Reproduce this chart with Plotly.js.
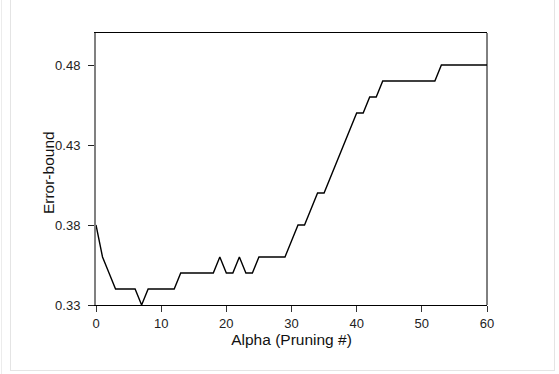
<!DOCTYPE html>
<html>
<head>
<meta charset="utf-8">
<script src="https://cdn.plot.ly/plotly-3.0.1.min.js"></script>
<style>
  html, body { margin: 0; padding: 0; background: #ffffff; }
  #wrap { position: relative; width: 559px; height: 374px; overflow: hidden; }
  #chart { position: absolute; left: 0; top: 0; width: 559px; height: 374px; }
  #frame { position: absolute; left: 10px; top: -4px; width: 545px; height: 375px;
           border: 1px solid #e4e4e4; box-sizing: border-box; pointer-events: none; }
  #edge { position: absolute; left: 1px; top: 0; width: 1px; height: 374px; background: #ececec; }
</style>
</head>
<body>
<div id="wrap">
  <div id="chart"></div>
  <div id="frame"></div>
  <div id="edge"></div>
</div>
<script>
const alpha = [0,1,2,3,4,5,6,7,8,9,10,11,12,13,14,15,16,17,18,19,20,21,22,23,24,25,26,27,28,29,30,
               31,32,33,34,35,36,37,38,39,40,41,42,43,44,45,46,47,48,49,50,51,52,53,54,55,56,57,58,59,60];
const errorBound = [0.38,0.36,0.35,0.34,0.34,0.34,0.34,0.33,0.34,0.34,0.34,0.34,0.34,0.35,0.35,0.35,0.35,0.35,0.35,0.36,
                    0.35,0.35,0.36,0.35,0.35,0.36,0.36,0.36,0.36,0.36,0.37,0.38,0.38,0.39,0.40,0.40,0.41,0.42,0.43,0.44,
                    0.45,0.45,0.46,0.46,0.47,0.47,0.47,0.47,0.47,0.47,0.47,0.47,0.47,0.48,0.48,0.48,0.48,0.48,0.48,0.48,0.48];
const xTicks = [0,10,20,30,40,50,60];
const yTicks = [0.33,0.38,0.43,0.48];
const yTickText = ["0.33","0.38","0.43","0.48"];

const font = "Liberation Sans, Arial, sans-serif";

Plotly.newPlot("chart", [{
  x: alpha, y: errorBound, type: "scatter", mode: "lines",
  line: {color: "#000000", width: 1.4}, hoverinfo: "skip"
}], {
  width: 559, height: 374,
  margin: {l: 96, r: 72, t: 33, b: 69},
  paper_bgcolor: "#ffffff", plot_bgcolor: "#ffffff",
  showlegend: false,
  font: {family: font, size: 13, color: "#222"},
  xaxis: {
    range: [0, 60], tickvals: xTicks, ticks: "outside", ticklen: 6, tickwidth: 1, tickcolor: "#333",
    showgrid: false, zeroline: false, showline: true, linecolor: "#000", linewidth: 1, mirror: true,
    tickfont: {family: font, size: 13, color: "#222"},
    title: {text: "Alpha (Pruning #)", font: {family: font, size: 15.5, color: "#111"}, standoff: 2}
  },
  yaxis: {
    range: [0.33, 0.50], tickvals: yTicks, ticktext: yTickText, ticks: "outside", ticklen: 6, tickwidth: 1, tickcolor: "#222",
    ticklabelstandoff: 5,
    showgrid: false, zeroline: false, showline: true, linecolor: "#808080", linewidth: 2,
    tickfont: {family: font, size: 13, color: "#222"}
  },
  shapes: [{type: "line", xref: "paper", yref: "paper", x0: 1, x1: 1, y0: 0, y1: 1,
            line: {color: "#000", width: 1}}],
  annotations: [{
    text: "Error-bound", xref: "paper", yref: "paper", x: (48 - 96) / 391, y: 0.485,
    xanchor: "center", yanchor: "middle", textangle: -90, showarrow: false,
    font: {family: font, size: 15.5, color: "#111"}
  }]
}, {staticPlot: true, displayModeBar: false});
</script>
</body>
</html>
